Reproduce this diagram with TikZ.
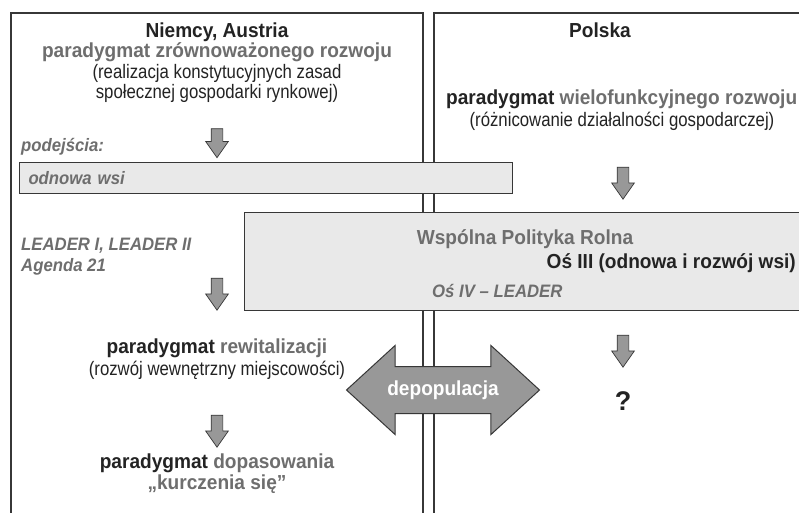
\documentclass[tikz,border=0pt]{standalone}
\usepackage{fontspec}
\setmainfont{Liberation Sans}
\newfontfamily\headfont{Liberation Sans}[FakeStretch=0.94]
\newfontfamily\narrowfont{Liberation Sans}[FakeStretch=0.86]
\newfontfamily\tagfont{Liberation Sans}[FakeStretch=0.93]
\usetikzlibrary{shapes.arrows}
\definecolor{txtgray}{RGB}{110,110,110}
\definecolor{txtblack}{RGB}{35,35,35}
\definecolor{linegray}{RGB}{55,55,55}
\definecolor{boxfill}{RGB}{233,233,233}
\definecolor{arrowfill}{RGB}{152,152,152}
\begin{document}
\begin{tikzpicture}[x=1pt,y=-1pt,
  frame/.style={draw=linegray, line width=1.1pt},
  panel/.style={draw=linegray, line width=1pt, fill=boxfill, inner sep=0pt},
  downarrow/.style={single arrow, draw=linegray, fill=arrowfill, line width=0.7pt,
    rotate=-90, minimum height=32pt, minimum width=22pt, inner sep=0pt, inner ysep=5.5pt,
    single arrow head extend=5.5pt, single arrow tip angle=70},
  dblarrow/.style={double arrow, draw=linegray, fill=arrowfill, line width=1pt,
    minimum height=193pt, minimum width=88pt, inner xsep=0pt, inner ysep=14pt,
    double arrow head extend=21pt, double arrow tip angle=85,
    text=white, font=\headfont\fontsize{20.3}{21}\selectfont\bfseries, text height=14pt, text depth=4pt},
  head/.style={font=\headfont\fontsize{20.3}{21}\selectfont\bfseries, text=txtblack, anchor=base, inner sep=0pt},
  note/.style={font=\narrowfont\fontsize{19.5}{20}\selectfont, text=txtblack, anchor=base, inner sep=0pt},
  tag/.style={font=\tagfont\fontsize{18}{20}\selectfont\bfseries\itshape, text=txtgray, anchor=base west, inner sep=0pt}]
\path[use as bounding box, clip] (0,0) rectangle (799,513);
\fill[white] (0,0) rectangle (799,513);
\draw[frame] (11,520) -- (11,13) -- (423,13) -- (423,520);
\draw[frame] (434,520) -- (434,13) -- (820,13);
\node[panel, anchor=north west, minimum height=31pt, text width=475pt, inner xsep=9pt, align=left,
  font=\tagfont\fontsize{18}{20}\selectfont\bfseries\itshape, text=txtgray] (odnowa) at (19,162) {odnowa wsi};
\node[panel, anchor=north west, minimum width=580pt, minimum height=98pt] (wpr) at (244,212) {};
\node[head] (niemcy) at (217,38) {Niemcy, Austria};
\node[head, text=txtgray] (zrown) at (217,58) {paradygmat zrównoważonego rozwoju};
\node[note] (realiz) at (217,79) {(realizacja konstytucyjnych zasad};
\node[note] (spol) at (217,99) {społecznej gospodarki rynkowej)};
\node[tag] (podejscia) at (21,151) {podejścia:};
\node[tag] (leader) at (21,250) {LEADER I, LEADER II};
\node[tag] (agenda) at (21,271) {Agenda 21};
\node[head] (rewit) at (217,353) {paradygmat \textcolor{txtgray}{rewitalizacji}};
\node[note] (rozwoj) at (217,375) {(rozwój wewnętrzny miejscowości)};
\node[head] (dopas) at (217,468) {paradygmat \textcolor{txtgray}{dopasowania}};
\node[head, text=txtgray] (kurcz) at (217,489) {„kurczenia się”};
\node[head] (polska) at (600,38) {Polska};
\node[head, anchor=base west] (wielo) at (446,105) {paradygmat \textcolor{txtgray}{wielofunkcyjnego rozwoju}};
\node[note] (roznic) at (622,127) {(różnicowanie działalności gospodarczej)};
\node[head, text=txtgray] (wprtxt) at (525,244) {Wspólna Polityka Rolna};
\node[head, anchor=base east] (os3) at (796,268) {Oś III (odnowa i rozwój wsi)};
\node[tag] (os4) at (432,297) {Oś IV – LEADER};
\node[head, font=\fontsize{27}{28}\selectfont\bfseries] (pyt) at (623,410) {?};
\node[downarrow, minimum height=29pt] (a1) at (217,139) {};
\node[downarrow] (a2) at (217,290) {};
\node[downarrow] (a3) at (217,427) {};
\node[downarrow] (b1) at (623,179) {};
\node[downarrow] (b2) at (623,347) {};
\node[dblarrow] (depop) at (443,390) {depopulacja};
\end{tikzpicture}
\end{document}
